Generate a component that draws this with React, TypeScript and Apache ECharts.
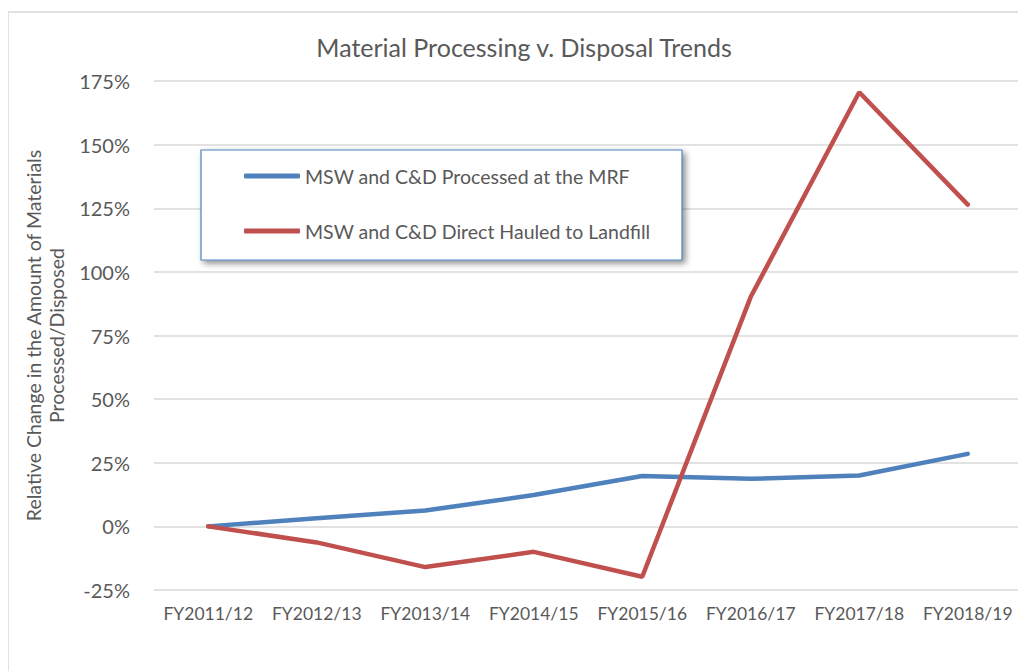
import React, { useEffect, useRef } from "react";
import * as echarts from "echarts";

const categories = ["FY2011/12", "FY2012/13", "FY2013/14", "FY2014/15", "FY2015/16", "FY2016/17", "FY2017/18", "FY2018/19"];
const processedMRF = [0, 3.2, 6.2, 12.3, 19.8, 18.7, 20.0, 28.5];
const directLandfill = [0, -6.3, -16.0, -10.0, -19.8, 90.2, 170.6, 126.4];
const seriesNames = ["MSW and C&D Processed at the MRF", "MSW and C&D Direct Hauled to Landfill"];
const yMin = -25;
const yMax = 175;
const yStep = 25;

const FONT = "Lato, 'Open Sans', sans-serif";
const TXT = "#595959";

export default function App() {
  const ref = useRef<HTMLDivElement>(null);
  useEffect(() => {
    if (!ref.current) return;
    const chart = echarts.init(ref.current, null, { renderer: "svg" });
    chart.setOption({
      animation: false,
      backgroundColor: "#ffffff",
      textStyle: { fontFamily: FONT },
      title: {
        text: "Material Processing v. Disposal Trends",
        left: 511,
        textAlign: "center",
        top: 21,
        textStyle: { fontFamily: FONT, fontSize: 25, fontWeight: "normal", color: TXT },
      },
      graphic: [
        {
          type: "rect",
          shape: { x: 0, y: 4, width: 1200, height: 900 },
          style: { fill: "none", stroke: "#d9d9d9", lineWidth: 1.5 },
          z: 0,
        },
        {
          type: "rect",
          shape: { x: 193, y: 142, width: 481, height: 110 },
          style: {
            fill: "#ffffff",
            stroke: "#4f81bd",
            lineWidth: 1.2,
            shadowBlur: 6,
            shadowOffsetX: 3,
            shadowOffsetY: 3,
            shadowColor: "rgba(0,0,0,0.45)",
          },
          z: 10,
        },
      ],
      legend: {
        orient: "vertical",
        left: 231,
        top: 152,
        itemWidth: 56,
        itemHeight: 5,
        itemGap: 33,
        z: 20,
        icon: "roundRect",
        data: seriesNames,
        textStyle: { fontFamily: FONT, fontSize: 19.5, color: TXT, lineHeight: 22 },
      },
      grid: { left: 146, right: 4, top: 73, bottom: 81 },
      xAxis: {
        type: "category",
        data: categories,
        boundaryGap: true,
        axisLine: { show: false },
        axisTick: { show: false },
        axisLabel: { fontFamily: FONT, fontSize: 17.5, color: TXT, margin: 14, interval: 0 },
      },
      yAxis: {
        type: "value",
        min: yMin,
        max: yMax,
        interval: yStep,
        name: "Relative Change in the Amount of Materials\nProcessed/Disposed",
        nameLocation: "middle",
        nameGap: 85,
        nameRotate: 90,
        nameTextStyle: { fontFamily: FONT, fontSize: 19.5, color: TXT, lineHeight: 23 },
        axisLine: { show: false },
        axisTick: { show: false },
        splitLine: { lineStyle: { color: "#d9d9d9", width: 1.5 } },
        axisLabel: { fontFamily: FONT, fontSize: 20, color: TXT, margin: 24, formatter: (v: number) => v + "%" },
      },
      series: [
        {
          name: seriesNames[0],
          type: "line",
          data: processedMRF,
          symbol: "none",
          lineStyle: { color: "#4f81bd", width: 4.5, cap: "round" },
          itemStyle: { color: "#4f81bd" },
        },
        {
          name: seriesNames[1],
          type: "line",
          data: directLandfill,
          symbol: "none",
          lineStyle: { color: "#c0504d", width: 4.5, cap: "round" },
          itemStyle: { color: "#c0504d" },
        },
      ],
    });
    return () => chart.dispose();
  }, []);
  return <div ref={ref} style={{ width: 1018, height: 663 }} />;
}
